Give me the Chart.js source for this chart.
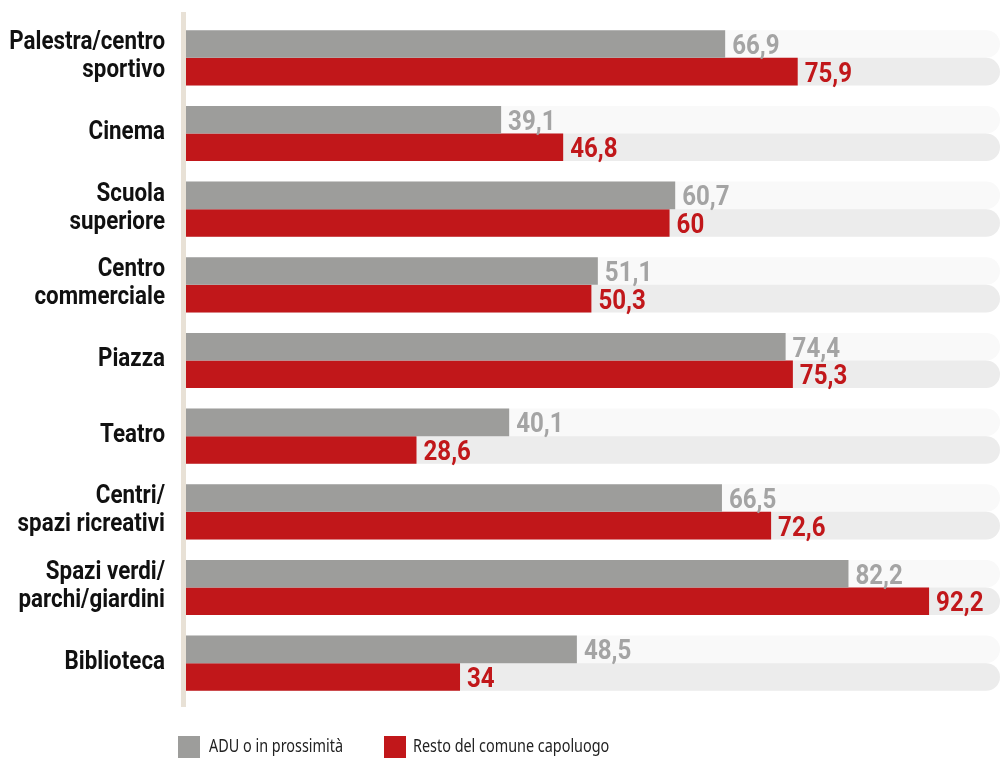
<!DOCTYPE html>
<html lang="it">
<head>
<meta charset="utf-8">
<title>Servizi frequentati</title>
<script src="https://cdn.jsdelivr.net/npm/chart.js@4/dist/chart.umd.min.js"></script>
<style>
  html, body { margin: 0; padding: 0; background: #fff; }
  .chartBox { position: relative; width: 1001px; height: 758px; overflow: hidden; }
  .legend-item { position: absolute; top: 736px; font-family: "Noto Sans", "Open Sans", sans-serif; font-size: 18px; color: #222; white-space: nowrap; }
  .legend-item i { position: absolute; left: 0; top: 0; width: 22px; height: 22px; }
  .legend-item b { position: absolute; top: -3px; font-weight: normal; transform: scaleX(0.8); transform-origin: left top; }
</style>
</head>
<body>
<div class="chartBox">
  <canvas id="bar-chart" width="1001" height="758"></canvas>
  <div class="legend-item" style="left:178px"><i style="background:#9d9d9b"></i><b style="left:31px">ADU o in prossimità</b></div>
  <div class="legend-item" style="left:384px"><i style="background:#c1171a"></i><b style="left:29px">Resto del comune capoluogo</b></div>
</div>
<script>
const categories = [
  ["Palestra/centro", "sportivo"],
  "Cinema",
  ["Scuola", "superiore"],
  ["Centro", "commerciale"],
  "Piazza",
  "Teatro",
  ["Centri/", "spazi ricreativi"],
  ["Spazi verdi/", "parchi/giardini"],
  "Biblioteca",
];
const aduValues = [66.9, 39.1, 60.7, 51.1, 74.4, 40.1, 66.5, 82.2, 48.5];
const restoValues = [75.9, 46.8, 60, 50.3, 75.3, 28.6, 72.6, 92.2, 34];

const GREY = "#9d9d9b";
const RED = "#c1171a";
const FONT = "Roboto, 'Noto Sans', sans-serif";
const SQUEEZE = 0.86; // horizontal squeeze for a condensed look

function narrowText(ctx, text, x, y) {
  ctx.save();
  ctx.translate(x, y);
  ctx.scale(SQUEEZE, 1);
  ctx.fillText(text, 0, 0);
  ctx.restore();
}

// light rounded tracks behind each bar + beige rule on the left
const trackPlugin = {
  id: "tracks",
  beforeDraw(chart) {
    const { ctx, chartArea } = chart;
    ctx.save();
    ctx.fillStyle = "#e8e1d6";
    ctx.fillRect(chartArea.left - 5, 12, 5, 695);
    ctx.restore();
  },
  beforeDatasetsDraw(chart) {
    const { ctx, chartArea } = chart;
    const fills = ["#f9f9f9", "#ececec"];
    chart.data.datasets.forEach((ds, i) => {
      chart.getDatasetMeta(i).data.forEach((bar) => {
        const { y, height } = bar.getProps(["y", "height"], true);
        ctx.save();
        ctx.fillStyle = fills[i];
        ctx.beginPath();
        ctx.roundRect(chartArea.left, y - height / 2, chartArea.right - chartArea.left, height, [0, height / 2, height / 2, 0]);
        ctx.fill();
        ctx.restore();
      });
    });
  },
};

// category names, right aligned against the rule
const categoryLabels = {
  id: "categoryLabels",
  afterDraw(chart) {
    const { ctx } = chart;
    const yScale = chart.scales.y;
    ctx.save();
    ctx.font = "bold 26px " + FONT;
    ctx.fillStyle = "#111";
    ctx.textAlign = "right";
    ctx.textBaseline = "alphabetic";
    chart.data.labels.forEach((label, i) => {
      const lines = Array.isArray(label) ? label : [label];
      const cy = yScale.getPixelForTick(i);
      lines.forEach((line, k) => {
        const y = cy + 5.5 + (k - (lines.length - 1) / 2) * 28;
        narrowText(ctx, line, yScale.right - 21, y);
      });
    });
    ctx.restore();
  },
};

// value labels at the end of each bar
const valueLabels = {
  id: "valueLabels",
  afterDatasetsDraw(chart) {
    const { ctx } = chart;
    const colors = ["#a4a4a4", RED];
    ctx.save();
    ctx.font = "bold 28px " + FONT;
    ctx.textAlign = "left";
    ctx.textBaseline = "alphabetic";
    chart.data.datasets.forEach((ds, i) => {
      chart.getDatasetMeta(i).data.forEach((bar, j) => {
        const { x, y } = bar.getProps(["x", "y"], true);
        ctx.fillStyle = colors[i];
        narrowText(ctx, ds.data[j].toLocaleString("it-IT"), x + 7, y + 10);
      });
    });
    ctx.restore();
  },
};

new Chart("bar-chart", {
  type: "bar",
  data: {
    labels: categories,
    datasets: [
      { label: "ADU o in prossimità", data: aduValues, backgroundColor: GREY },
      { label: "Resto del comune capoluogo", data: restoValues, backgroundColor: RED },
    ],
  },
  options: {
    indexAxis: "y",
    responsive: false,
    animation: false,
    events: [],
    categoryPercentage: 0.73,
    barPercentage: 1,
    layout: { padding: { top: 20, bottom: 57, right: 1, left: 0 } },
    scales: {
      x: { display: false, min: 0, max: 101 },
      y: {
        afterFit(scale) {
          scale.width = 186;
          scale.paddingTop = 0;
          scale.paddingBottom = 0;
        },
        grid: { display: false, drawTicks: false },
        border: { display: false },
        ticks: { display: false },
      },
    },
    plugins: {
      legend: { display: false },
      tooltip: { enabled: false },
    },
  },
  plugins: [trackPlugin, categoryLabels, valueLabels],
});
</script>
</body>
</html>
